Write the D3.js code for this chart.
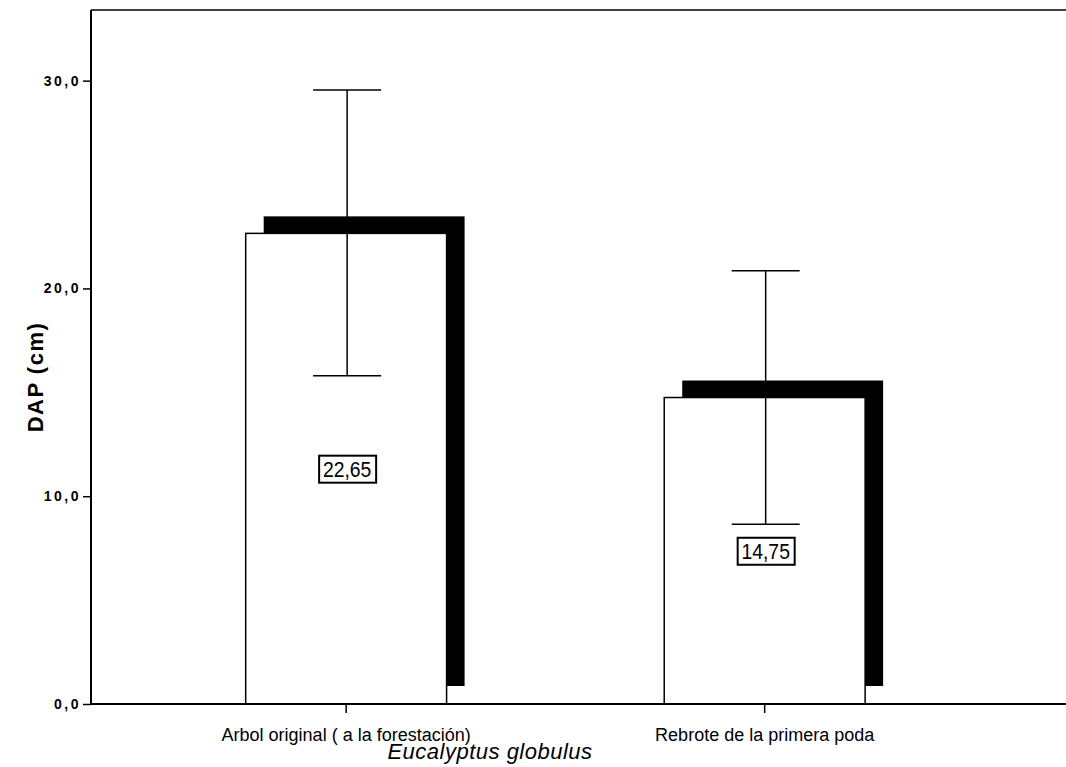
<!DOCTYPE html>
<html>
<head>
<meta charset="utf-8">
<script src="https://cdn.jsdelivr.net/npm/d3@7"></script>
<style>
    body { margin: 0; background: #fff; }
    text { font-family: "Liberation Sans", Arial, sans-serif; fill: #000; }
</style>
</head>
<body>
<script>
//data
var categories = ["Arbol original ( a la forestación)", "Rebrote de la primera poda"];
var means = [22.65, 14.75];
var errLow = [15.8, 8.65];
var errHigh = [29.55, 20.85];
var meanLabels = ["22,65", "14,75"];
var yTicks = [0, 10, 20, 30];

window.onload = function(){

    var w = 1066, h = 767;

    var svg = d3.select("body")
        .append("svg")
        .attr("width", w)
        .attr("height", h);

    //plot area
    var left = 91, right = 1066, top = 10, bottom = 704;

    var y = d3.scaleLinear()
        .domain([0, 33.4])
        .range([bottom, top]);

    var x = d3.scaleBand()
        .domain(categories)
        .range([left, 1062])
        .paddingInner(0.52)
        .paddingOuter(0.42)
        .align(0.44);

    var comma = function(d){ return d3.format(".1f")(d).replace(".", ","); };

    //frame top line
    svg.append("line")
        .attr("x1", left).attr("x2", right)
        .attr("y1", top).attr("y2", top)
        .style("stroke", "#000").style("stroke-width", 1.5);

    //shadow offset for the 3d look
    var off = 18;

    //black shadows behind the bars
    svg.selectAll(".shadow")
        .data(means)
        .enter()
        .append("rect")
        .attr("class", "shadow")
        .attr("x", function(d, i){ return x(categories[i]) + off; })
        .attr("y", function(d){ return y(d) - off + 1; })
        .attr("width", x.bandwidth())
        .attr("height", function(d){ return y(0) - y(d) - 1; })
        .style("fill", "#000");

    //white bars
    svg.selectAll(".bar")
        .data(means)
        .enter()
        .append("rect")
        .attr("class", "bar")
        .attr("x", function(d, i){ return x(categories[i]); })
        .attr("y", function(d){ return y(d); })
        .attr("width", x.bandwidth())
        .attr("height", function(d){ return y(0) - y(d); })
        .style("fill", "#fff")
        .style("stroke", "#000")
        .style("stroke-width", 1.5);

    //error bars
    var cx = function(i){ return x(categories[i]) + x.bandwidth() / 2 + 1; };
    var capW = 34;

    svg.selectAll(".whisker")
        .data(means)
        .enter()
        .append("line")
        .attr("class", "whisker")
        .attr("x1", function(d, i){ return cx(i); })
        .attr("x2", function(d, i){ return cx(i); })
        .attr("y1", function(d, i){ return y(errLow[i]); })
        .attr("y2", function(d, i){ return y(errHigh[i]); })
        .style("stroke", "#000").style("stroke-width", 1.5);

    [errLow, errHigh].forEach(function(arr){
        svg.selectAll(null)
            .data(arr)
            .enter()
            .append("line")
            .attr("x1", function(d, i){ return cx(i) - capW; })
            .attr("x2", function(d, i){ return cx(i) + capW; })
            .attr("y1", function(d){ return y(d); })
            .attr("y2", function(d){ return y(d); })
            .style("stroke", "#000").style("stroke-width", 1.5);
    });

    //boxed mean labels in the middle of each bar
    var lab = svg.selectAll(".meanLab")
        .data(means)
        .enter()
        .append("g")
        .attr("class", "meanLab")
        .attr("transform", function(d, i){
            return "translate(" + cx(i) + "," + (y(d) + y(0)) / 2 + ")";
        });

    lab.append("rect")
        .attr("x", -28).attr("y", -13)
        .attr("width", 57).attr("height", 27)
        .style("fill", "#fff")
        .style("stroke", "#000")
        .style("stroke-width", 2);

    lab.append("text")
        .attr("text-anchor", "middle")
        .attr("transform", "scale(0.88,1)")
        .attr("dy", 8)
        .style("font-size", "22px")
        .text(function(d, i){ return meanLabels[i]; });

    //y axis
    var yAxis = d3.axisLeft(y)
        .tickValues(yTicks)
        .tickSize(8)
        .tickPadding(2)
        .tickFormat(comma);

    var ya = svg.append("g")
        .attr("transform", "translate(" + left + ",0)")
        .call(yAxis);
    ya.select(".domain").remove();
    ya.selectAll("line").style("stroke-width", 1.5);
    ya.selectAll("text")
        .style("font-size", "14px")
        .style("font-weight", "bold")
        .style("letter-spacing", "2.5px")
        .style("font-family", "'Liberation Sans', Arial, sans-serif");

    svg.append("line")
        .attr("x1", left).attr("x2", left)
        .attr("y1", top).attr("y2", bottom)
        .style("stroke", "#000").style("stroke-width", 2);

    //x axis
    var xAxis = d3.axisBottom(x)
        .tickSize(9)
        .tickPadding(15)
        .tickSizeOuter(0);

    var xa = svg.append("g")
        .attr("transform", "translate(0," + bottom + ")")
        .call(xAxis);
    xa.select(".domain").remove();
    xa.selectAll("line").style("stroke-width", 1.5);
    xa.selectAll("text")
        .style("font-size", "18px")
        .style("font-family", "'Liberation Sans', Arial, sans-serif");

    svg.append("line")
        .attr("x1", left).attr("x2", right)
        .attr("y1", bottom).attr("y2", bottom)
        .style("stroke", "#000").style("stroke-width", 2);

    //axis titles
    svg.append("text")
        .attr("text-anchor", "middle")
        .attr("transform", "translate(43,377) rotate(-90)")
        .style("font-size", "22px")
        .style("font-weight", "bold")
        .style("letter-spacing", "1.5px")
        .text("DAP (cm)");

    svg.append("text")
        .attr("text-anchor", "middle")
        .attr("x", 490)
        .attr("y", 759)
        .style("font-size", "22px")
        .style("font-style", "italic")
        .style("letter-spacing", "0.5px")
        .text("Eucalyptus globulus");
};
</script>
</body>
</html>
